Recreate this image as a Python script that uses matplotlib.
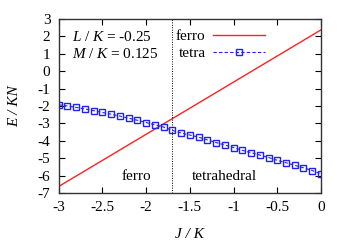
import matplotlib
matplotlib.use("Agg")
import matplotlib.pyplot as plt
import numpy as np

plt.rcParams['font.family'] = ['Liberation Serif']
plt.rcParams['mathtext.fontset'] = 'custom'
plt.rcParams['mathtext.rm'] = 'Liberation Serif'
plt.rcParams['mathtext.it'] = 'Liberation Serif:italic'

# data
ferro_J = [-3.0, 0.0]
ferro_E = [-6.625, 2.375]
tetra_J = [round(-3.0 + 0.1 * i, 1) for i in range(31)]
tetra_E = [-1.93, -2.00, -2.08, -2.17, -2.27, -2.37, -2.47, -2.58, -2.70, -2.82,
           -2.95, -3.08, -3.21, -3.40, -3.55, -3.67, -3.79, -3.95, -4.10, -4.24,
           -4.39, -4.55, -4.68, -4.82, -4.96, -5.12, -5.26, -5.41, -5.55, -5.71,
           -5.90]
transition_J = -1.7
xticks = [-3, -2.5, -2, -1.5, -1, -0.5, 0]
yticks = list(range(-7, 4))

fig = plt.figure(figsize=(3.5, 2.45), dpi=100)
ax = fig.add_axes([0.1677, 0.2122, 0.7494, 0.7102])

ax.plot(ferro_J, ferro_E, color='#ff2020', lw=1.0, label='ferro')
ax.plot(tetra_J, tetra_E, color='#2020ff', lw=0.8, ls=(0, (3, 2)), marker='s',
        ms=4, mfc='none', mec='#2020ff', mew=1.0, label='tetra')
ax.axvline(transition_J, color='black', lw=0.7, ls=(0, (1, 1.5)))

ax.set_xlim(-3, 0)
ax.set_ylim(-7, 3)
ax.set_xticks(xticks)
ax.set_xticklabels(['-3', '-2.5', '-2', '-1.5', '-1', '-0.5', '0'])
ax.set_yticks(yticks)
ax.set_yticklabels([str(v) for v in yticks])
ax.tick_params(direction='in', top=True, right=True, length=4, width=0.8,
               labelsize=11, pad=6, colors='black')
for s in ax.spines.values():
    s.set_linewidth(1.0)
    s.set_color('#333333')

ax.set_xlabel('J / K', fontsize=11, style='italic', labelpad=10)
ax.set_ylabel('E / KN', fontsize=11, style='italic', labelpad=12)

ax.text(0.05, 0.895, r'$L\ /\ K$ = -0.25', transform=ax.transAxes, fontsize=11,
        va='center', ha='left')
ax.text(0.05, 0.80, r'$M\ /\ K$ = 0.125', transform=ax.transAxes, fontsize=11,
        va='center', ha='left')
ax.text(-2.115, -6.06, 'ferro', fontsize=11, ha='center', va='center')
ax.text(-1.11, -6.06, 'tetrahedral', fontsize=11, ha='center', va='center')

leg = ax.legend(loc='upper right', bbox_to_anchor=(0.84, 1.02), frameon=False,
                markerfirst=False, numpoints=1, fontsize=11, handlelength=3.4,
                handletextpad=0.5, labelspacing=0.25)

fig.savefig('out.png', dpi=100)
